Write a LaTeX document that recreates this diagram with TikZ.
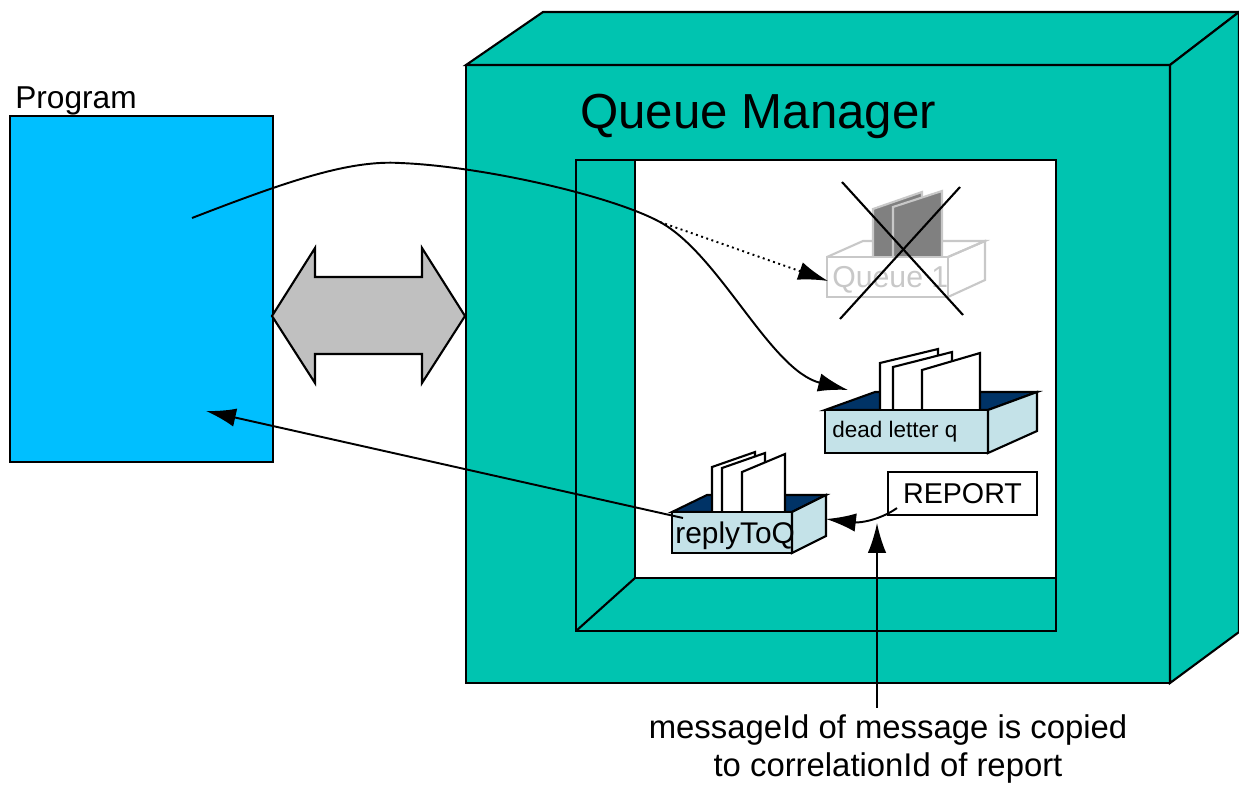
\documentclass[tikz,border=0pt]{standalone}
\usepackage{fontspec}
\setmainfont{Liberation Sans}
\usepackage{xcolor}
\usetikzlibrary{arrows.meta}

\definecolor{qmteal}{RGB}{0,196,176}
\definecolor{progblue}{RGB}{0,191,255}
\definecolor{shaftgray}{RGB}{192,192,192}
\definecolor{traynavy}{RGB}{0,51,102}
\definecolor{traylight}{RGB}{196,226,232}
\definecolor{ghost}{RGB}{200,200,200}
\definecolor{ghostpaper}{RGB}{128,128,128}

\tikzset{
  edge/.style={line width=1.2pt},
  conn/.style={line width=1.1pt,-{Latex[length=17pt,width=10.5pt]}},
  label/.style={anchor=base west,inner sep=0pt},
  progbox/.style={draw,edge,fill=progblue,minimum width=5.26cm,minimum height=6.92cm},
  reportbox/.style={draw,edge,fill=white,minimum width=2.98cm,minimum height=0.86cm,
    font=\fontsize{16.3}{19}\selectfont},
  paper/.style={draw,edge,fill=white},
}

\begin{document}
\begin{tikzpicture}[x=0.02cm,y=-0.02cm]
\useasboundingbox (0,0) rectangle (1239,784);

% Program
\node[progbox] (prog) at (141.5,289) {};
\node[label,font=\fontsize{18}{21}\selectfont] (proglabel) at (15,109) {Program};

% Queue manager block (front, top and side faces)
\draw[edge,fill=qmteal] (466,65) rectangle (1170,683);
\draw[edge,fill=qmteal] (466,65) -- (543,12) -- (1239,12) -- (1170,65) -- cycle;
\draw[edge,fill=qmteal] (1170,65) -- (1239,12) -- (1239,632) -- (1170,683) -- cycle;
\node[label,font=\fontsize{28}{32}\selectfont] (qmtitle) at (580,128) {Queue Manager};

% window into the queue manager
\fill[white] (635,160) rectangle (1056,578);
\draw[edge] (576,160) rectangle (1056,631);
\draw[edge] (635,160) -- (635,578) -- (1056,578);
\draw[edge] (576,631) -- (635,578);

% two way link
\draw[edge,fill=shaftgray] (272,316) -- (315,248) -- (315,277) -- (422,277) -- (422,248)
  -- (465,316) -- (422,383) -- (422,354) -- (315,354) -- (315,383) -- cycle;

% Queue 1 (gone)
\draw[edge,ghost] (827,257) -- (863,241) -- (985,241) -- (948,257);
\draw[edge,ghost,fill=ghostpaper] (873,257) -- (873,209) -- (922,192) -- (922,257);
\draw[edge,ghost,fill=ghostpaper] (893,257) -- (893,207) -- (942,191) -- (942,257);
\draw[edge,ghost] (827,257) rectangle (948,297);
\draw[edge,ghost] (948,257) -- (985,241) -- (985,280) -- (948,297);
\node[label,text=ghost,font=\fontsize{17.2}{20}\selectfont] (q1label) at (832,287) {Queue 1};
\draw[edge] (842,182) -- (963,315);
\draw[edge] (960,187) -- (840,319);

% dead letter queue
\draw[edge,fill=traynavy] (825,410) -- (875,392) -- (1037,392) -- (988,410) -- cycle;
\draw[paper] (880,410) -- (880,363) -- (938,349) -- (938,410);
\draw[paper] (893,410) -- (893,367) -- (952,352) -- (952,410);
\draw[paper] (922,410) -- (922,370) -- (980,353) -- (980,410);
\draw[edge,fill=traylight] (825,410) rectangle (988,453);
\draw[edge,fill=traylight] (988,410) -- (1037,392) -- (1037,431) -- (988,453) -- cycle;
\node[label,font=\fontsize{12.8}{15}\selectfont] (dlqlabel) at (832,437) {dead letter q};

% reply to queue
\draw[edge,fill=traynavy] (672,512) -- (707,495) -- (826,495) -- (792,512) -- cycle;
\draw[paper] (712,512) -- (712,467) -- (755,452) -- (755,512);
\draw[paper] (722,512) -- (722,468) -- (765,453) -- (765,512);
\draw[paper] (742,512) -- (742,472) -- (785,454) -- (785,512);
\draw[edge,fill=traylight] (672,512) rectangle (792,553);
\draw[edge,fill=traylight] (792,512) -- (826,495) -- (826,536) -- (792,553) -- cycle;
\node[label,font=\fontsize{17}{20}\selectfont] (rqlabel) at (675,543) {replyToQ};

% report message
\node[reportbox] (report) at (962.5,493.5) {REPORT};

% note
\node[anchor=base,font=\fontsize{18.7}{22}\selectfont] (note1) at (888,738) {messageId of message is copied};
\node[anchor=base,font=\fontsize{18.7}{22}\selectfont] (note2) at (888,776) {to correlationId of report};

% connector ends
\coordinate (put) at (192,218);
\coordinate (fork) at (660,222);
\coordinate (dlqin) at (848,390);
\coordinate (q1in) at (828,281);
\coordinate (rqout) at (683,518);
\coordinate (get) at (206,411);
\coordinate (rqin) at (826,519);
\coordinate (corr) at (877,523);

% message path
\draw[line width=1.1pt] (put) .. controls (290,180) and (350,160) .. (400,163)
  .. controls (480,166) and (610,195) .. (fork);
\draw[conn] (fork) .. controls (720,255) and (770,370) .. (dlqin);
\draw[conn,dotted] (fork) -- (q1in);
\draw[conn] (rqout) -- (get);
\draw[conn] ([xshift=0.2cm,yshift=0.16cm]report.south west) .. controls (880,520) and (860,523) .. (rqin);
\draw[conn] (corr |- note1.north) -- (corr);
\end{tikzpicture}
\end{document}
